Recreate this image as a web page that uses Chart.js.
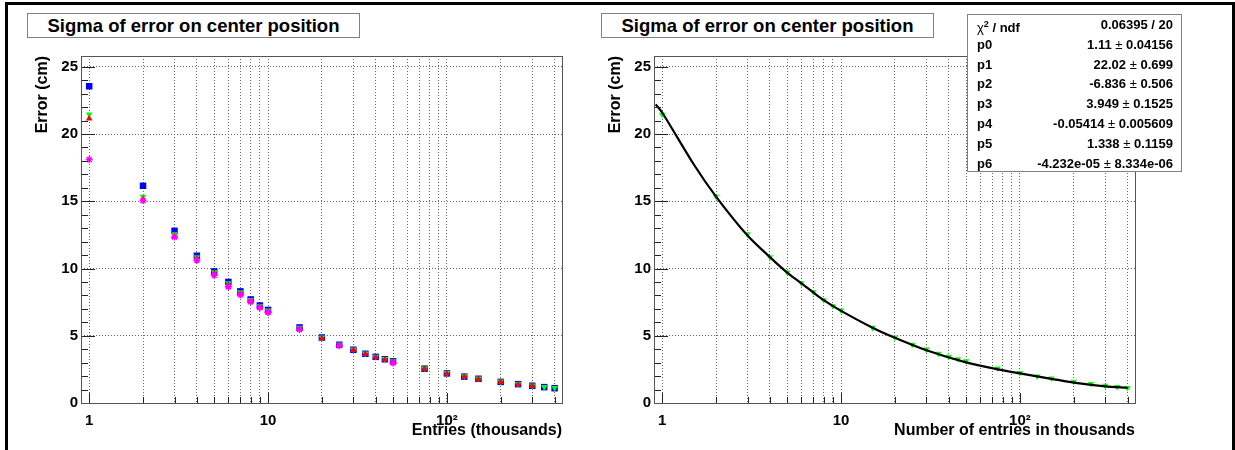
<!DOCTYPE html>
<html>
<head>
<meta charset="utf-8">
<script src="https://cdn.jsdelivr.net/npm/chart.js@4.4.0/dist/chart.umd.min.js"></script>
<style>
  body { margin: 0; width: 1235px; height: 450px; background: #fff; position: relative; overflow: hidden;
         font-family: "Liberation Sans", Arial, sans-serif; }
  #frame { position: absolute; left: 5px; top: 2px; width: 1230px; height: 470px; box-sizing: border-box;
           border: 3px solid #000; border-bottom: none; }
  .pane { position: absolute; top: 0; }
  .title { position: absolute; top: 13px; width: 333px; height: 25px; box-sizing: border-box; border: 1px solid #808080;
           background: #fff; font-weight: bold; font-size: 18.5px; display: flex; align-items: center; justify-content: center; }
  #stats { position: absolute; left: 967px; top: 14px; width: 215px; height: 158px; box-sizing: border-box;
           border: 1px solid #808080; background: #fff; font-weight: bold; font-size: 13px; }
  #stats .row { position: absolute; left: 9px; right: 8px; height: 19.8px; line-height: 19.8px; display: flex; justify-content: space-between; }
  .sym { font-weight: normal; }
</style>
</head>
<body>
<div id="frame"></div>
<div class="pane" style="left:0"><canvas id="left" width="610" height="450"></canvas></div>
<div class="pane" style="left:573px"><canvas id="right" width="662" height="450"></canvas></div>
<div class="title" style="left:27px">Sigma of error on center position</div>
<div class="title" style="left:601px">Sigma of error on center position</div>
<div id="stats"></div>

<script>
// entries in thousands
var entries = [1, 2, 3, 4, 5, 6, 7, 8, 9, 10, 15, 20, 25, 30, 35, 40, 45, 50, 75, 100, 125, 150, 200, 250, 300, 350, 400];
var blueSigma = [23.55, 16.15, 12.8, 10.95, 9.78, 9.0, 8.3, 7.7, 7.25, 6.92, 5.62, 4.87, 4.33, 3.96, 3.66, 3.43, 3.25, 3.1, 2.55, 2.2, 1.96, 1.8, 1.57, 1.4, 1.28, 1.18, 1.1];
var greenSigma = [21.45, 15.35, 12.55, 10.85, 9.72, 8.92, 8.25, 7.66, 7.2, 6.88, 5.6, 4.88, 4.35, 3.98, 3.68, 3.45, 3.27, 3.12, 2.58, 2.24, 1.99, 1.83, 1.6, 1.42, 1.3, 1.2, 1.13];
var redEntries = [1, 2, 3, 4, 5, 6, 7, 8, 9, 10, 15, 20, 25, 30, 35, 40, 45, 50, 75, 100, 125, 150, 200, 250, 300];
var redSigma = [21.15, 15.15, 12.35, 10.7, 9.6, 8.75, 8.1, 7.55, 7.1, 6.78, 5.52, 4.8, 4.3, 3.93, 3.63, 3.4, 3.22, 3.06, 2.52, 2.18, 1.94, 1.77, 1.55, 1.38, 1.27];
var magentaEntries = [1, 2, 3, 4, 5, 6, 7, 8, 9, 10, 15, 25, 50];
var magentaSigma = [18.1, 15.05, 12.35, 10.62, 9.5, 8.65, 8.05, 7.52, 7.08, 6.72, 5.47, 4.25, 2.98];

// fitted curve
var fitEntries = [0.92, 1, 1.5, 2, 3, 4, 5, 6, 7, 8, 10, 15, 20, 30, 50, 75, 100, 150, 200, 300, 400];
var fitSigma = [22.2, 21.6, 17.75, 15.35, 12.45, 10.85, 9.7, 8.9, 8.22, 7.65, 6.85, 5.6, 4.85, 3.92, 3.02, 2.5, 2.2, 1.8, 1.52, 1.24, 1.12];

var xTicks = [1, 2, 3, 4, 5, 6, 7, 8, 9, 10, 20, 30, 40, 50, 60, 70, 80, 90, 100, 200, 300, 400];
var xTickLabels = { 1: "1", 10: "10", 100: "10\u00b2" };
var yTicks = [0, 5, 10, 15, 20, 25];

var statNames = ["\u03c7\u00b2 / ndf", "p0", "p1", "p2", "p3", "p4", "p5", "p6"];
var statValues = ["0.06395 / 20", "1.11 \u00b1 0.04156", "22.02 \u00b1 0.699", "-6.836 \u00b1 0.506", "3.949 \u00b1 0.1525",
                  "-0.05414 \u00b1 0.005609", "1.338 \u00b1 0.1159", "-4.232e-05 \u00b1 8.334e-06"];

Chart.defaults.font.family = '"Liberation Sans", Arial, sans-serif';

function pts(xs, ys) {
  return xs.map(function (x, i) { return { x: x, y: ys[i] }; });
}

// ROOT style: ticks inside the frame + frame box
var rootAxes = {
  id: "rootAxes",
  afterDraw: function (chart) {
    var ctx = chart.ctx, a = chart.chartArea, x = chart.scales.x, y = chart.scales.y;
    ctx.save();
    ctx.strokeStyle = "#222";
    ctx.lineWidth = 1;
    ctx.beginPath();
    for (var v = 0; v <= 25; v++) {
      var py = Math.round(y.getPixelForValue(v)) + 0.5;
      ctx.moveTo(a.left, py);
      ctx.lineTo(a.left + (v % 5 === 0 ? 14 : 7), py);
    }
    xTicks.forEach(function (t) {
      var px = Math.round(x.getPixelForValue(t)) + 0.5;
      ctx.moveTo(px, a.bottom);
      ctx.lineTo(px, a.bottom - (xTickLabels[t] ? 10 : 6));
    });
    ctx.stroke();
    ctx.strokeStyle = "#555";
    ctx.strokeRect(Math.round(a.left) + 0.5, Math.round(a.top) + 0.5, Math.round(a.right - a.left), Math.round(a.bottom - a.top));
    ctx.restore();
  }
};

function makeChart(id, datasets, xTitle, padRight) {
  return new Chart(document.getElementById(id), {
    type: "scatter",
    data: { datasets: datasets },
    options: {
      responsive: false,
      animation: false,
      layout: { padding: { top: 56, right: padRight, bottom: 0, left: 0 } },
      plugins: { legend: { display: false }, tooltip: { enabled: false } },
      scales: {
        x: {
          type: "logarithmic",
          min: 0.9,
          max: 440,
          afterBuildTicks: function (s) { s.ticks = xTicks.map(function (v) { return { value: v }; }); },
          afterFit: function (s) { s.height = 47; },
          ticks: {
            autoSkip: false, maxRotation: 0, padding: 9, color: "#000",
            font: { size: 15, weight: "bold" },
            callback: function (v) { return xTickLabels[v] || ""; }
          },
          grid: { color: "#666", drawTicks: false },
          border: { display: false, dash: [1, 2] },
          title: { display: true, text: xTitle, align: "end", color: "#000",
                   font: { size: 16, weight: "bold" }, padding: { top: 0, bottom: 10 } }
        },
        y: {
          min: 0,
          max: 25.8,
          afterBuildTicks: function (s) { s.ticks = yTicks.map(function (v) { return { value: v }; }); },
          afterFit: function (s) { s.width = 81; },
          ticks: { padding: 3, color: "#000", font: { size: 15, weight: "bold" } },
          grid: { color: "#666", drawTicks: false },
          border: { display: false, dash: [1, 2] },
          title: { display: true, text: "Error (cm)", align: "end", color: "#000",
                   font: { size: 16, weight: "bold" }, padding: { top: 33, bottom: 0 } }
        }
      }
    },
    plugins: [rootAxes]
  });
}

makeChart("left", [
  { data: pts(magentaEntries, magentaSigma), order: 0, pointStyle: "star", pointRadius: 3.5,
    borderColor: "#ff00ff", backgroundColor: "#ff00ff", borderWidth: 1.5 },
  { data: pts(redEntries, redSigma), order: 1, pointStyle: "triangle", pointRadius: 3.8,
    borderColor: "#ff0000", backgroundColor: "#ff0000", borderWidth: 0 },
  { data: pts(entries, greenSigma), order: 2, pointStyle: "triangle", rotation: 180, pointRadius: 3.8,
    borderColor: "#00ff00", backgroundColor: "#00ff00", borderWidth: 0 },
  { data: pts(entries, blueSigma), order: 3, pointStyle: "rect", pointRadius: 4.6,
    borderColor: "#0000ff", backgroundColor: "#0000ff", borderWidth: 0 }
], "Entries (thousands)", 48);

makeChart("right", [
  { data: pts(fitEntries, fitSigma), order: 0, showLine: true, pointRadius: 0, borderColor: "#000",
    borderWidth: 2.2, tension: 0.3 },
  { data: pts(entries, greenSigma), order: 1, pointStyle: "triangle", rotation: 180, pointRadius: 3.7,
    borderColor: "#00ff00", backgroundColor: "#00ff00", borderWidth: 0 }
], "Number of entries in thousands", 100);

var stats = document.getElementById("stats");
statNames.forEach(function (name, i) {
  var row = document.createElement("div");
  row.className = "row";
  row.style.top = (i * 19.8) + "px";
  var l = document.createElement("span");
  var r = document.createElement("span");
  if (i === 0) {
    l.innerHTML = '<span class="sym">\u03c7</span><sup style="font-size:9px">2</sup> / ndf';
  } else {
    l.textContent = name;
  }
  r.innerHTML = statValues[i].replace("\u00b1", '<span class="sym">\u00b1</span>');
  row.appendChild(l);
  row.appendChild(r);
  stats.appendChild(row);
});
</script>
</body>
</html>
